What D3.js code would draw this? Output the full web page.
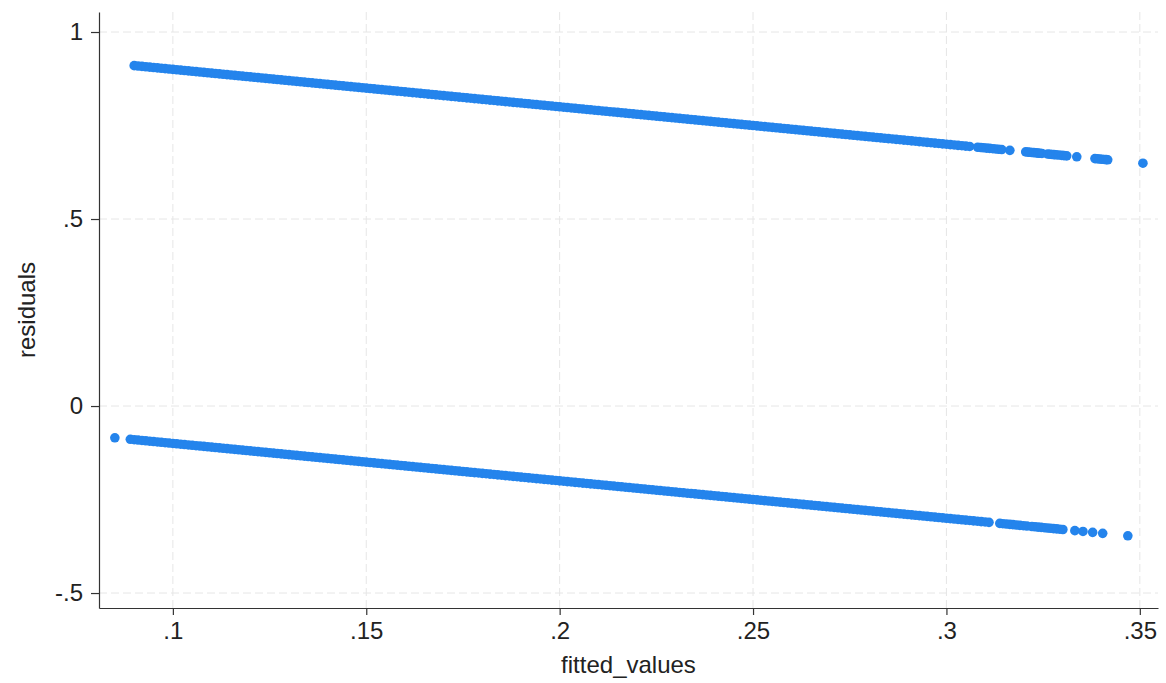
<!DOCTYPE html>
<html>
<head>
<meta charset="utf-8">
<script src="https://cdn.jsdelivr.net/npm/d3@7"></script>
<style>
  body { margin: 0; background: #ffffff; }
  svg { display: block; font-family: "Liberation Sans", Arial, Helvetica, sans-serif; }
</style>
</head>
<body>
<div id="chart"></div>
<script>
// tick values and their stata style labels
var xTicks = [0.1, 0.15, 0.2, 0.25, 0.3, 0.35];
var xTickLabels = [".1", ".15", ".2", ".25", ".3", ".35"];
var yTicks = [-0.5, 0, 0.5, 1];
var yTickLabels = ["-.5", "0", ".5", "1"];

// observations with outcome = 1 (upper band), fitted value and residual
var highFitted = [
  .090,.091,.092,.093,.094,.095,.096,.097,.098,.099,.100,.101,.102,.103,.104,.105,.106,.107,.108,.109,
  .110,.111,.112,.113,.114,.115,.116,.117,.118,.119,.120,.121,.122,.123,.124,.125,.126,.127,.128,.129,
  .130,.131,.132,.133,.134,.135,.136,.137,.138,.139,.140,.141,.142,.143,.144,.145,.146,.147,.148,.149,
  .150,.151,.152,.153,.154,.155,.156,.157,.158,.159,.160,.161,.162,.163,.164,.165,.166,.167,.168,.169,
  .170,.171,.172,.173,.174,.175,.176,.177,.178,.179,.180,.181,.182,.183,.184,.185,.186,.187,.188,.189,
  .190,.191,.192,.193,.194,.195,.196,.197,.198,.199,.200,.201,.202,.203,.204,.205,.206,.207,.208,.209,
  .210,.211,.212,.213,.214,.215,.216,.217,.218,.219,.220,.221,.222,.223,.224,.225,.226,.227,.228,.229,
  .230,.231,.232,.233,.234,.235,.236,.237,.238,.239,.240,.241,.242,.243,.244,.245,.246,.247,.248,.249,
  .250,.251,.252,.253,.254,.255,.256,.257,.258,.259,.260,.261,.262,.263,.264,.265,.266,.267,.268,.269,
  .270,.271,.272,.273,.274,.275,.276,.277,.278,.279,.280,.281,.282,.283,.284,.285,.286,.287,.288,.289,
  .290,.291,.292,.293,.294,.295,.296,.297,.298,.299,.300,.301,.302,.303,.304,.305,.306,
  .3081,.3089,.3096,.3104,.3112,.3120,.3127,.3135,.3143,
  .3164,
  .3205,.3211,.3216,.3221,.3226,.3232,.3237,.3242,.3247,
  .3262,.3268,.3273,.3278,.3283,.3290,.3298,.3304,.3311,
  .3337,
  .3384,.3390,.3396,.3402,.3408,.3413,.3417,
  .3508
];
var highResid = [
  .910,.909,.908,.907,.906,.905,.904,.903,.902,.901,.900,.899,.898,.897,.896,.895,.894,.893,.892,.891,
  .890,.889,.888,.887,.886,.885,.884,.883,.882,.881,.880,.879,.878,.877,.876,.875,.874,.873,.872,.871,
  .870,.869,.868,.867,.866,.865,.864,.863,.862,.861,.860,.859,.858,.857,.856,.855,.854,.853,.852,.851,
  .850,.849,.848,.847,.846,.845,.844,.843,.842,.841,.840,.839,.838,.837,.836,.835,.834,.833,.832,.831,
  .830,.829,.828,.827,.826,.825,.824,.823,.822,.821,.820,.819,.818,.817,.816,.815,.814,.813,.812,.811,
  .810,.809,.808,.807,.806,.805,.804,.803,.802,.801,.800,.799,.798,.797,.796,.795,.794,.793,.792,.791,
  .790,.789,.788,.787,.786,.785,.784,.783,.782,.781,.780,.779,.778,.777,.776,.775,.774,.773,.772,.771,
  .770,.769,.768,.767,.766,.765,.764,.763,.762,.761,.760,.759,.758,.757,.756,.755,.754,.753,.752,.751,
  .750,.749,.748,.747,.746,.745,.744,.743,.742,.741,.740,.739,.738,.737,.736,.735,.734,.733,.732,.731,
  .730,.729,.728,.727,.726,.725,.724,.723,.722,.721,.720,.719,.718,.717,.716,.715,.714,.713,.712,.711,
  .710,.709,.708,.707,.706,.705,.704,.703,.702,.701,.700,.699,.698,.697,.696,.695,.694,
  .6919,.6911,.6904,.6896,.6888,.6880,.6873,.6865,.6857,
  .6836,
  .6795,.6789,.6784,.6779,.6774,.6768,.6763,.6758,.6753,
  .6738,.6732,.6727,.6722,.6717,.6710,.6702,.6696,.6689,
  .6663,
  .6616,.6610,.6604,.6598,.6592,.6587,.6583,
  .6492
];

// observations with outcome = 0 (lower band), fitted value and residual
var lowFitted = [
  .085,
  .089,.090,.091,.092,.093,.094,.095,.096,.097,.098,.099,.100,.101,.102,.103,.104,.105,.106,.107,.108,
  .109,.110,.111,.112,.113,.114,.115,.116,.117,.118,.119,.120,.121,.122,.123,.124,.125,.126,.127,.128,
  .129,.130,.131,.132,.133,.134,.135,.136,.137,.138,.139,.140,.141,.142,.143,.144,.145,.146,.147,.148,
  .149,.150,.151,.152,.153,.154,.155,.156,.157,.158,.159,.160,.161,.162,.163,.164,.165,.166,.167,.168,
  .169,.170,.171,.172,.173,.174,.175,.176,.177,.178,.179,.180,.181,.182,.183,.184,.185,.186,.187,.188,
  .189,.190,.191,.192,.193,.194,.195,.196,.197,.198,.199,.200,.201,.202,.203,.204,.205,.206,.207,.208,
  .209,.210,.211,.212,.213,.214,.215,.216,.217,.218,.219,.220,.221,.222,.223,.224,.225,.226,.227,.228,
  .229,.230,.231,.232,.233,.234,.235,.236,.237,.238,.239,.240,.241,.242,.243,.244,.245,.246,.247,.248,
  .249,.250,.251,.252,.253,.254,.255,.256,.257,.258,.259,.260,.261,.262,.263,.264,.265,.266,.267,.268,
  .269,.270,.271,.272,.273,.274,.275,.276,.277,.278,.279,.280,.281,.282,.283,.284,.285,.286,.287,.288,
  .289,.290,.291,.292,.293,.294,.295,.296,.297,.298,.299,.300,.301,.302,.303,.304,.305,.306,.307,.308,
  .309,.310,.311,
  .3138,.3146,.3155,.3164,.3172,.3181,.3190,.3199,.3208,
  .3221,.3229,.3237,.3245,.3253,.3261,.3269,.3277,.3285,.3293,.3301,
  .3332,.3353,.3378,.3404,
  .3469
];
var lowResid = [
  -.085,
  -.089,-.090,-.091,-.092,-.093,-.094,-.095,-.096,-.097,-.098,-.099,-.100,-.101,-.102,-.103,-.104,-.105,-.106,-.107,-.108,
  -.109,-.110,-.111,-.112,-.113,-.114,-.115,-.116,-.117,-.118,-.119,-.120,-.121,-.122,-.123,-.124,-.125,-.126,-.127,-.128,
  -.129,-.130,-.131,-.132,-.133,-.134,-.135,-.136,-.137,-.138,-.139,-.140,-.141,-.142,-.143,-.144,-.145,-.146,-.147,-.148,
  -.149,-.150,-.151,-.152,-.153,-.154,-.155,-.156,-.157,-.158,-.159,-.160,-.161,-.162,-.163,-.164,-.165,-.166,-.167,-.168,
  -.169,-.170,-.171,-.172,-.173,-.174,-.175,-.176,-.177,-.178,-.179,-.180,-.181,-.182,-.183,-.184,-.185,-.186,-.187,-.188,
  -.189,-.190,-.191,-.192,-.193,-.194,-.195,-.196,-.197,-.198,-.199,-.200,-.201,-.202,-.203,-.204,-.205,-.206,-.207,-.208,
  -.209,-.210,-.211,-.212,-.213,-.214,-.215,-.216,-.217,-.218,-.219,-.220,-.221,-.222,-.223,-.224,-.225,-.226,-.227,-.228,
  -.229,-.230,-.231,-.232,-.233,-.234,-.235,-.236,-.237,-.238,-.239,-.240,-.241,-.242,-.243,-.244,-.245,-.246,-.247,-.248,
  -.249,-.250,-.251,-.252,-.253,-.254,-.255,-.256,-.257,-.258,-.259,-.260,-.261,-.262,-.263,-.264,-.265,-.266,-.267,-.268,
  -.269,-.270,-.271,-.272,-.273,-.274,-.275,-.276,-.277,-.278,-.279,-.280,-.281,-.282,-.283,-.284,-.285,-.286,-.287,-.288,
  -.289,-.290,-.291,-.292,-.293,-.294,-.295,-.296,-.297,-.298,-.299,-.300,-.301,-.302,-.303,-.304,-.305,-.306,-.307,-.308,
  -.309,-.310,-.311,
  -.3138,-.3146,-.3155,-.3164,-.3172,-.3181,-.3190,-.3199,-.3208,
  -.3221,-.3229,-.3237,-.3245,-.3253,-.3261,-.3269,-.3277,-.3285,-.3293,-.3301,
  -.3332,-.3353,-.3378,-.3404,
  -.3469
];

function drawChart() {
  var width = 1166, height = 683;
  var padL = 99, padR = 1158, padT = 12, padB = 608;
  var dotColor = "#2484ec";

  var svg = d3.select("#chart").append("svg")
    .attr("width", width).attr("height", height);

  var x = d3.scaleLinear().domain([0.0809, 0.3547]).range([padL, padR]);
  var y = d3.scaleLinear().domain([-0.540, 1.0535]).range([padB, padT]);

  // grid lines, light dashed
  var grid = svg.append("g").attr("class", "grid");
  grid.selectAll("line.gy").data(yTicks).enter().append("line")
    .attr("class", "gy")
    .attr("x1", padL).attr("x2", padR)
    .attr("y1", function(d){ return y(d); }).attr("y2", function(d){ return y(d); })
    .style("stroke", "#e6e6e6").style("stroke-width", 1).style("stroke-dasharray", "8,4");
  grid.selectAll("line.gx").data(xTicks).enter().append("line")
    .attr("class", "gx")
    .attr("x1", function(d){ return x(d); }).attr("x2", function(d){ return x(d); })
    .attr("y1", padT).attr("y2", padB)
    .style("stroke", "#e6e6e6").style("stroke-width", 1).style("stroke-dasharray", "8,4");

  // points
  var pts = [];
  highFitted.forEach(function(f, i){ pts.push({ f: f, r: highResid[i] }); });
  lowFitted.forEach(function(f, i){ pts.push({ f: f, r: lowResid[i] }); });

  svg.append("g").selectAll("circle").data(pts).enter().append("circle")
    .attr("cx", function(d){ return x(d.f); })
    .attr("cy", function(d){ return y(d.r); })
    .attr("r", 4.8)
    .style("fill", dotColor);

  // axes
  var xAxis = d3.axisBottom(x).tickValues(xTicks)
    .tickFormat(function(d, i){ return xTickLabels[i]; })
    .tickSize(7).tickPadding(7).tickSizeOuter(0);
  var yAxis = d3.axisLeft(y).tickValues(yTicks)
    .tickFormat(function(d, i){ return yTickLabels[i]; })
    .tickSize(8).tickPadding(8).tickSizeOuter(0);

  var gx = svg.append("g").attr("transform", "translate(0," + padB + ")").call(xAxis);
  var gy = svg.append("g").attr("transform", "translate(" + padL + ",0)").call(yAxis);

  [gx, gy].forEach(function(g){
    g.select(".domain").style("stroke", "#333").style("stroke-width", 1.2);
    g.selectAll(".tick line").style("stroke", "#333").style("stroke-width", 1.2);
    g.selectAll(".tick text").style("font-size", "24px").style("fill", "#222")
      .style("font-family", "'Liberation Sans', Arial, sans-serif");
  });

  // axis titles
  svg.append("text")
    .attr("x", (padL + padR) / 2).attr("y", 673)
    .attr("text-anchor", "middle")
    .style("font-size", "24px").style("fill", "#222")
    .text("fitted_values");

  svg.append("text")
    .attr("transform", "translate(35," + ((padT + padB) / 2) + ") rotate(-90)")
    .attr("text-anchor", "middle")
    .style("font-size", "24px").style("fill", "#222")
    .text("residuals");
}

drawChart();
</script>
</body>
</html>
